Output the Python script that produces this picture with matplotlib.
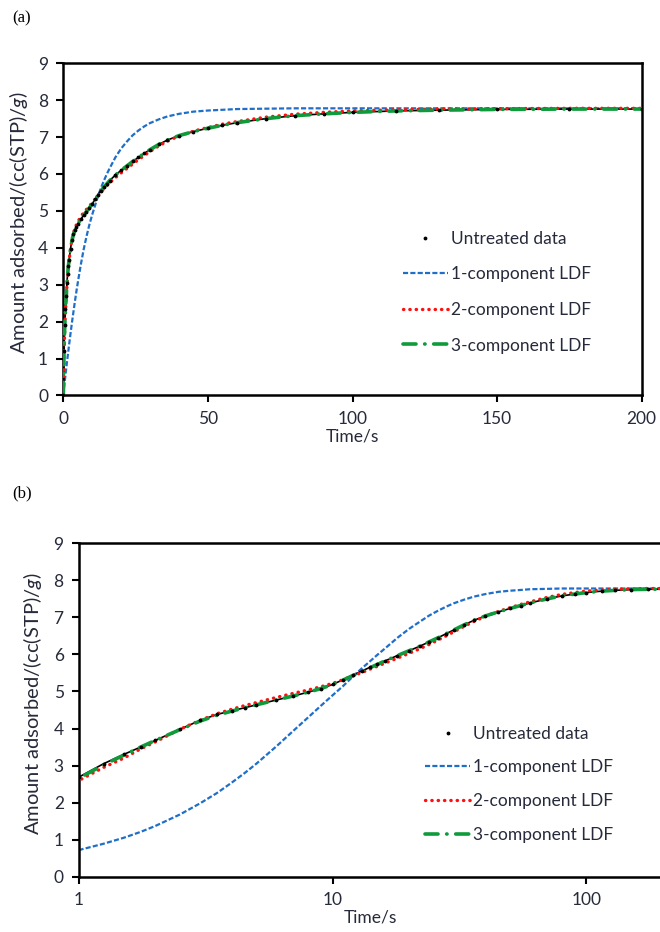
import numpy as np
import matplotlib
matplotlib.use("Agg")
import matplotlib.pyplot as plt
from matplotlib.lines import Line2D
from matplotlib.ticker import FixedLocator, FixedFormatter, NullLocator

plt.rcParams['font.family'] = ['Lato', 'DejaVu Sans']
plt.rcParams['mathtext.fontset'] = 'custom'
plt.rcParams['mathtext.it'] = 'Lato:italic'
plt.rcParams['mathtext.rm'] = 'Lato'

# ---- data ----
time_s = [0, 0.25, 0.5, 0.75, 1, 1.25, 1.5, 1.75, 2, 2.5,
          3, 3.5, 4, 4.5, 5, 6, 7, 8, 9, 10,
          11, 12, 13, 14, 15, 16, 18, 20, 22, 24,
          26, 28, 30, 33, 36, 40, 45, 50, 55, 60,
          70, 80, 90, 100, 115, 130, 150, 175, 200]
untreated = [0, 1.2, 1.9, 2.35, 2.69, 3.05, 3.3, 3.5, 3.68, 3.98,
             4.22, 4.38, 4.48, 4.56, 4.64, 4.77, 4.88, 4.98, 5.08, 5.19,
             5.32, 5.44, 5.55, 5.65, 5.74, 5.82, 5.97, 6.1, 6.22, 6.34,
             6.45, 6.56, 6.66, 6.8, 6.92, 7.04, 7.15, 7.24, 7.32, 7.39,
             7.5, 7.58, 7.63, 7.67, 7.71, 7.73, 7.75, 7.76, 7.76]
ldf1 = [0, 0.19, 0.37, 0.55, 0.72, 0.89, 1.05, 1.21, 1.37, 1.68,
        1.98, 2.26, 2.54, 2.8, 3.05, 3.52, 3.94, 4.3, 4.62, 4.9,
        5.15, 5.4, 5.62, 5.81, 5.99, 6.15, 6.45, 6.69, 6.88, 7.05,
        7.18, 7.29, 7.38, 7.48, 7.56, 7.63, 7.69, 7.72, 7.74, 7.76,
        7.77, 7.78, 7.78, 7.78, 7.78, 7.78, 7.78, 7.78, 7.78]
ldf2 = [0, 1.1, 1.8, 2.25, 2.6, 2.95, 3.2, 3.45, 3.64, 3.98,
        4.22, 4.4, 4.52, 4.62, 4.7, 4.84, 4.95, 5.04, 5.13, 5.22,
        5.32, 5.42, 5.51, 5.6, 5.68, 5.76, 5.9, 6.03, 6.15, 6.27,
        6.39, 6.5, 6.61, 6.76, 6.89, 7.03, 7.16, 7.26, 7.35, 7.42,
        7.54, 7.62, 7.67, 7.71, 7.74, 7.76, 7.77, 7.78, 7.78]
ldf3 = [0, 1.15, 1.88, 2.33, 2.66, 3.02, 3.28, 3.5, 3.68, 3.97,
        4.2, 4.36, 4.47, 4.56, 4.64, 4.77, 4.88, 4.98, 5.08, 5.19,
        5.31, 5.43, 5.54, 5.64, 5.73, 5.82, 5.97, 6.1, 6.22, 6.34,
        6.45, 6.56, 6.66, 6.8, 6.92, 7.04, 7.15, 7.24, 7.32, 7.39,
        7.5, 7.58, 7.63, 7.67, 7.71, 7.73, 7.75, 7.76, 7.76]

labels = ["Untreated data", "1-component LDF", "2-component LDF", "3-component LDF"]
yticks = [0, 1, 2, 3, 4, 5, 6, 7, 8, 9]
xticks_a = [0, 50, 100, 150, 200]
xticks_b = [1, 10, 100]

BLUE = '#1f6fc8'
RED = '#ff1010'
GREEN = '#0f9a3c'
TICKC = '#262a3a'

LS1 = (0, (2.3, 1.0))
LS2 = (0, (0.1, 1.8))
LS3 = (0, (3.6, 2.4, 0.1, 2.4))

t = np.array(time_s, dtype=float)

W, H = 660, 932
fig = plt.figure(figsize=(W / 100, H / 100), dpi=100)


def px_axes(x0, x1, y0, y1):
    return fig.add_axes([x0 / W, 1 - y1 / H, (x1 - x0) / W, (y1 - y0) / H])


def draw(ax, mask):
    tt = t[mask]
    ax.plot(tt, np.array(ldf1)[mask], ls=LS1, color=BLUE, lw=1.6, zorder=2)
    ax.plot(tt, np.array(untreated)[mask], ls='-', color='black', lw=1.2, zorder=2.5)
    ax.plot(tt, np.array(ldf2)[mask], ls=LS2, color=RED, lw=2.4,
            dash_capstyle='round', zorder=3)
    ax.plot(tt, np.array(ldf3)[mask], ls=LS3, color=GREEN, lw=2.6,
            dash_capstyle='round', zorder=4)
    ax.plot(tt, np.array(untreated)[mask], ls='none', color='black',
            marker='.', ms=3.5, zorder=5)


def style(ax, label_x):
    for s in ax.spines.values():
        s.set_linewidth(1.8)
        s.set_color('black')
    ax.tick_params(direction='out', length=5, width=1.5, colors='black',
                   labelcolor=TICKC, labelsize=12.5, pad=6)
    ax.set_ylim(0, 9)
    ax.yaxis.set_major_locator(FixedLocator(yticks))
    ax.set_ylabel("Amount adsorbed/(cc(STP)/$g$)", fontsize=14.5, color=TICKC)
    ax.yaxis.set_label_coords(label_x, 0.52)
    ax.set_xlabel("Time/s", fontsize=12.5, color=TICKC, labelpad=1)


def legend(ax, anchor, spacing):
    handles = [
        Line2D([], [], ls='none', marker='.', ms=3.5, color='black'),
        Line2D([], [], ls=LS1, color=BLUE, lw=1.6),
        Line2D([], [], ls=LS2, color=RED, lw=2.4, dash_capstyle='round'),
        Line2D([], [], ls=LS3, color=GREEN, lw=2.6, dash_capstyle='round'),
    ]
    ax.legend(handles, labels, loc='upper left', bbox_to_anchor=anchor, frameon=False,
              fontsize=12.5, handlelength=2.6, handletextpad=0.15, labelspacing=spacing,
              borderpad=0, borderaxespad=0, labelcolor=TICKC)


# Panel (a)
axa = px_axes(63.3, 641.7, 63.3, 395.4)
draw(axa, np.ones_like(t, dtype=bool))
style(axa, -0.058)
axa.set_xlim(0, 200)
axa.xaxis.set_major_locator(FixedLocator(xticks_a))
legend(axa, (0.587, 0.496), 1.13)

# Panel (b)
axb = px_axes(79, 662.8, 543.3, 876.7)
draw(axb, t > 0)
style(axb, -0.06)
axb.set_xscale('log')
axb.set_xlim(1, 200)
axb.xaxis.set_major_locator(FixedLocator(xticks_b))
axb.xaxis.set_major_formatter(FixedFormatter([str(v) for v in xticks_b]))
axb.xaxis.set_minor_locator(NullLocator())
legend(axb, (0.593, 0.453), 1.02)

fig.text(12 / W, 1 - 18 / H, "(a)", family='Liberation Serif', fontsize=12, va='center')
fig.text(12 / W, 1 - 493 / H, "(b)", family='Liberation Serif', fontsize=12, va='center')

fig.savefig("out.png", dpi=100)
